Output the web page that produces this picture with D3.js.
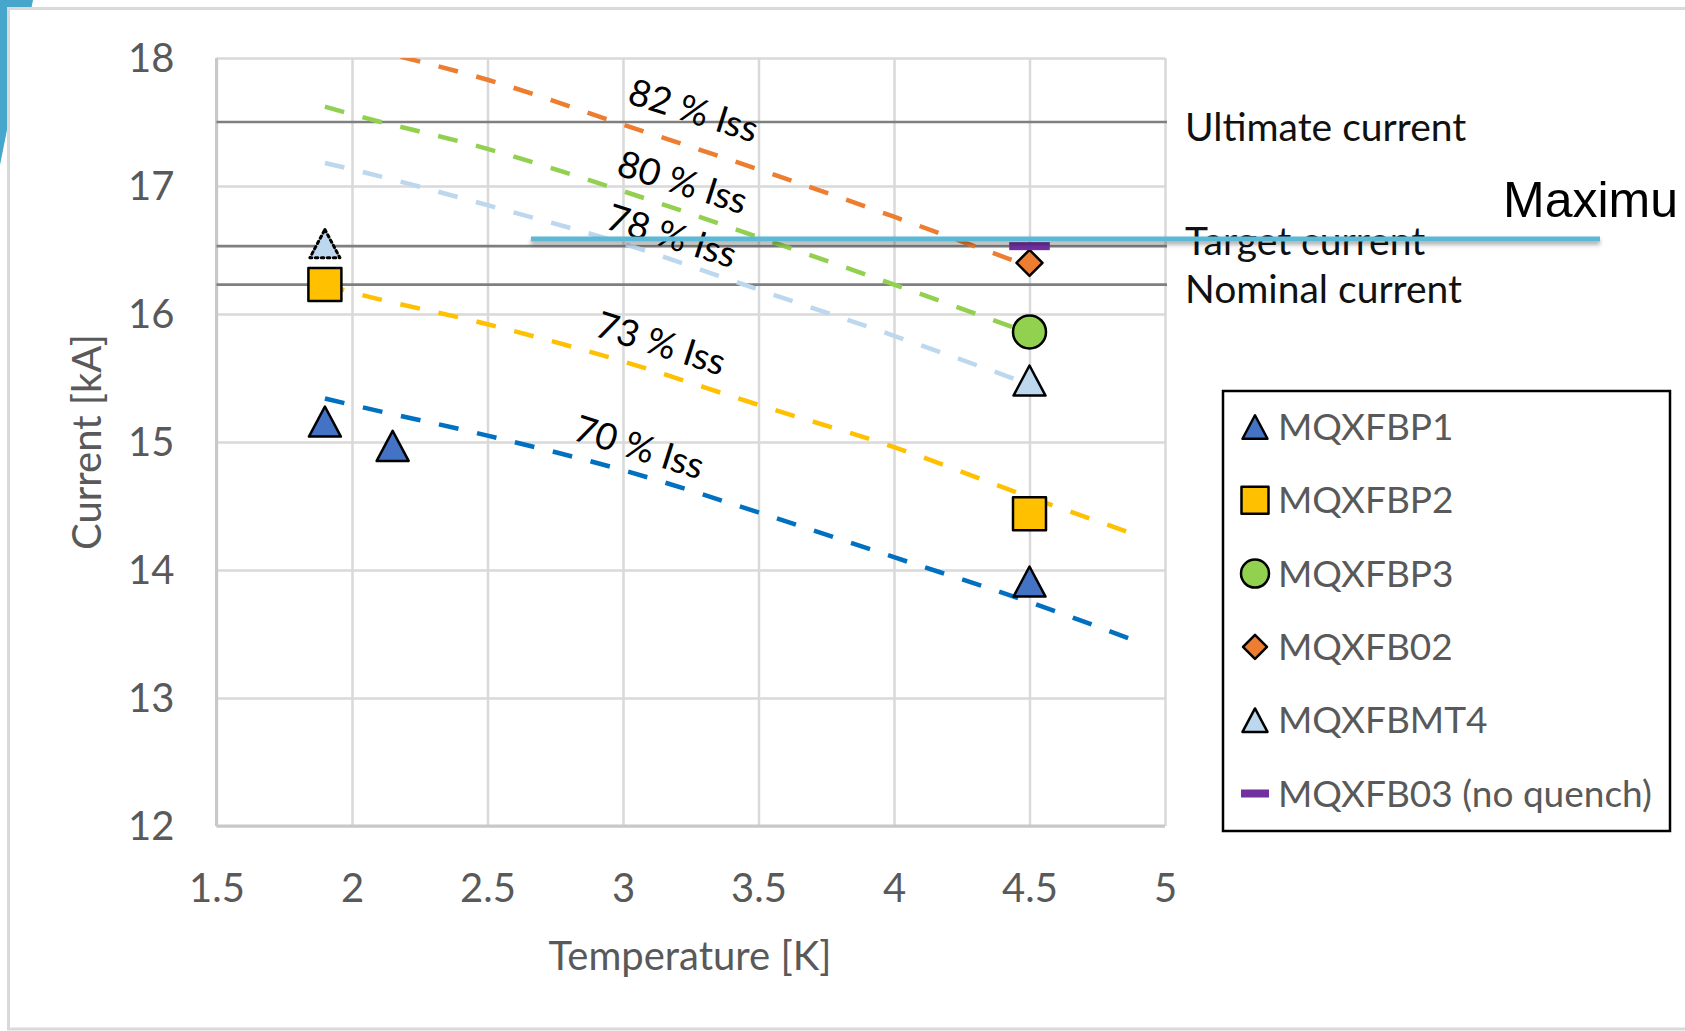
<!DOCTYPE html>
<html>
<head>
<meta charset="utf-8">
<script src="https://cdn.jsdelivr.net/npm/d3@7"></script>
<style>
  html, body { margin: 0; padding: 0; background: #fff; overflow: hidden; }
</style>
</head>
<body>
<div id="chart"></div>
<script>
// ---- data (temperature in K, current in kA) ----
const xTicks = [1.5, 2, 2.5, 3, 3.5, 4, 4.5, 5];
const yTicks = [12, 13, 14, 15, 16, 17, 18];

// %Iss curves
const tempsLong = [1.9, 2.0, 2.5, 3.0, 3.5, 4.0, 4.5, 4.9];
const tempsShort = [1.9, 2.0, 2.5, 3.0, 3.5, 4.0, 4.5];
const iss70 = [15.34, 15.29, 15.05, 14.78, 14.45, 14.10, 13.75, 13.44];
const iss73 = [16.23, 16.17, 15.92, 15.63, 15.29, 14.96, 14.57, 14.27];
const iss78 = [17.18, 17.13, 16.85, 16.55, 16.19, 15.83, 15.45];
const iss80 = [17.62, 17.56, 17.29, 16.96, 16.60, 16.23, 15.85];
const iss82 = [18.15, 18.10, 17.83, 17.48, 17.13, 16.76, 16.37];
const issLabels = ['70 % Iss', '73 % Iss', '78 % Iss', '80 % Iss', '82 % Iss'];
const issLabelTemps = [3.06, 3.14, 3.18, 3.22, 3.26];
const issLabelCurrents = [14.96, 15.77, 16.61, 17.03, 17.59];

// reference currents
const refNames = ['Ultimate current', 'Target current', 'Nominal current'];
const refCurrents = [17.5, 16.53, 16.23];

// magnets
const magnetNames = ['MQXFBP1', 'MQXFBP2', 'MQXFBP3', 'MQXFB02', 'MQXFBMT4', 'MQXFB03 (no quench)'];
const p1Temps = [1.9, 2.15, 4.5];
const p1Currents = [15.16, 14.97, 13.91];
const p2Temps = [1.9, 4.5];
const p2Currents = [16.23, 14.44];
const p3Temps = [4.5];
const p3Currents = [15.86];
const b02Temps = [4.5];
const b02Currents = [16.40];
const mt4Temps = [4.5];
const mt4Currents = [15.48];
const mt4NoQuenchTemps = [1.9];
const mt4NoQuenchCurrents = [16.55];
const b03Temps = [4.5];
const b03Currents = [16.53];

// slide overlay text, visible part only (the rest runs off the slide)
const maxLabel = 'Maximu';

// ---- styles ----
const FONT = 'Lato, "Open Sans", sans-serif';
const TXT_GRAY = '#595959';
const issColors = ['#0070c0', '#ffc000', '#bdd7ee', '#92d050', '#ed7d31'];
const magnetStyles = [
  { shape: 'triangle', fill: '#4472c4' },
  { shape: 'square', fill: '#ffc000' },
  { shape: 'circle', fill: '#92d050' },
  { shape: 'diamond', fill: '#ed7d31' },
  { shape: 'triangle', fill: '#bdd7ee' },
  { shape: 'dash', fill: '#7030a0' }
];

const W = 1685, H = 1031;
const svg = d3.select('#chart').append('svg').attr('width', W).attr('height', H);

// slide decoration + chart frame
svg.append('path').attr('d', 'M0,0L33,0L0,165Z').attr('fill', '#46a6cb');
svg.append('rect').attr('x', 8.5).attr('y', 8.5).attr('width', 1720).attr('height', 1020.5)
  .attr('fill', '#fff').attr('stroke', '#d9d9d9').attr('stroke-width', 3);

const x = d3.scaleLinear().domain([1.5, 5]).range([216.5, 1165]);
const y = d3.scaleLinear().domain([12, 18]).range([826, 58]);

const defs = svg.append('defs');
defs.append('clipPath').attr('id', 'plot-clip').append('rect')
  .attr('x', x(1.5)).attr('y', y(18)).attr('width', x(5) - x(1.5)).attr('height', y(12) - y(18));
const shadow = defs.append('filter').attr('id', 'shadow').attr('filterUnits', 'userSpaceOnUse')
  .attr('x', 500).attr('y', 220).attr('width', 1130).attr('height', 50);
shadow.append('feDropShadow').attr('dx', 0).attr('dy', 3).attr('stdDeviation', 2)
  .attr('flood-color', '#000').attr('flood-opacity', 0.35);

// gridlines
svg.append('g')
  .attr('transform', `translate(0,${y(12)})`)
  .call(d3.axisBottom(x).tickValues(xTicks).tickSize(-(y(12) - y(18))).tickFormat(d => d))
  .call(g => g.select('.domain').remove())
  .call(g => g.selectAll('.tick line').attr('stroke', '#d9d9d9').attr('stroke-width', 2.5))
  .call(g => g.selectAll('.tick text').attr('fill', TXT_GRAY).attr('font-size', '40px')
    .attr('font-family', FONT).attr('y', 0).attr('dy', 0).attr('transform', 'translate(0,76)'));

svg.append('g')
  .attr('transform', `translate(${x(1.5)},0)`)
  .call(d3.axisLeft(y).tickValues(yTicks).tickSize(-(x(5) - x(1.5))).tickFormat(d => d))
  .call(g => g.select('.domain').remove())
  .call(g => g.selectAll('.tick line').attr('stroke', '#d9d9d9').attr('stroke-width', 2.5))
  .call(g => g.selectAll('.tick text').attr('fill', TXT_GRAY).attr('font-size', '40px')
    .attr('font-family', FONT).attr('x', -42).attr('dy', '0.33em'));

// axis lines
svg.append('line').attr('x1', x(1.5)).attr('x2', x(1.5)).attr('y1', y(18)).attr('y2', y(12))
  .attr('stroke', '#c8c8c8').attr('stroke-width', 3);
svg.append('line').attr('x1', x(1.5)).attr('x2', x(5)).attr('y1', y(12)).attr('y2', y(12))
  .attr('stroke', '#c8c8c8').attr('stroke-width', 3);

// axis titles
svg.append('text').attr('x', 690).attr('y', 970).attr('text-anchor', 'middle')
  .attr('fill', TXT_GRAY).attr('font-size', '40px').attr('font-family', FONT).text('Temperature [K]');
svg.append('text').attr('transform', 'translate(101,442) rotate(-90)').attr('text-anchor', 'middle')
  .attr('fill', TXT_GRAY).attr('font-size', '40px').attr('font-family', FONT).text('Current [kA]');

// reference lines
const refLabelDy = [19, 9, 18];
refCurrents.forEach((c, i) => {
  svg.append('line').attr('x1', x(1.5)).attr('x2', x(5) + 2).attr('y1', y(c)).attr('y2', y(c))
    .attr('stroke', '#7f7f7f').attr('stroke-width', 2.7);
  svg.append('text').attr('x', 1185).attr('y', y(c) + refLabelDy[i])
    .attr('fill', '#111').attr('font-size', '39px').attr('font-family', FONT).text(refNames[i]);
});

// %Iss curves
const issSeries = [
  { t: tempsLong, v: iss70 },
  { t: tempsLong, v: iss73 },
  { t: tempsShort, v: iss78 },
  { t: tempsShort, v: iss80 },
  { t: tempsShort, v: iss82 }
];
const line = d3.line().x(d => x(d[0])).y(d => y(d[1])).curve(d3.curveMonotoneX);
const curves = svg.append('g').attr('clip-path', 'url(#plot-clip)');
issSeries.forEach((s, i) => {
  curves.append('path').datum(d3.zip(s.t, s.v)).attr('d', line)
    .attr('fill', 'none').attr('stroke', issColors[i]).attr('stroke-width', 4.5)
    .attr('stroke-dasharray', '20,19');
});

// markers
function drawMarker(g, shape, cx, cy, size, fill, dotted) {
  const w = size, h = shape === 'triangle' ? size * 0.94 : size;
  let el;
  if (shape === 'triangle') {
    el = g.append('path').attr('d', `M${cx},${cy - h / 2}L${cx + w / 2},${cy + h / 2}L${cx - w / 2},${cy + h / 2}Z`);
  } else if (shape === 'square') {
    el = g.append('rect').attr('x', cx - w / 2).attr('y', cy - w / 2).attr('width', w).attr('height', w);
  } else if (shape === 'circle') {
    el = g.append('circle').attr('cx', cx).attr('cy', cy).attr('r', w / 2);
  } else if (shape === 'diamond') {
    el = g.append('path').attr('d', `M${cx},${cy - h / 2}L${cx + w / 2},${cy}L${cx},${cy + h / 2}L${cx - w / 2},${cy}Z`);
  } else {
    return g.append('rect').attr('x', cx - w * 0.7).attr('y', cy - 4).attr('width', w * 1.4).attr('height', 8)
      .attr('fill', fill);
  }
  el.attr('fill', fill).attr('stroke', '#000').attr('stroke-width', 2.5).attr('stroke-linejoin', 'round');
  if (dotted) el.attr('stroke-dasharray', '2.5,3.5').attr('stroke-linecap', 'round').attr('stroke-width', 3);
  return el;
}

const magnetData = [
  d3.zip(p1Temps, p1Currents),
  d3.zip(p2Temps, p2Currents),
  d3.zip(p3Temps, p3Currents),
  d3.zip(b02Temps, b02Currents),
  d3.zip(mt4Temps, mt4Currents),
  d3.zip(b03Temps, b03Currents)
];
const plotSizes = [32, 33, 33, 26, 32, 29];
const markers = svg.append('g');
magnetData.forEach((pts, i) => {
  pts.forEach(p => drawMarker(markers, magnetStyles[i].shape, x(p[0]), y(p[1]), plotSizes[i], magnetStyles[i].fill, false));
});
d3.zip(mt4NoQuenchTemps, mt4NoQuenchCurrents).forEach(p =>
  drawMarker(markers, 'triangle', x(p[0]), y(p[1]), 30, '#bdd7ee', true));

// curve labels
issLabels.forEach((lab, i) => {
  svg.append('text')
    .attr('transform', `translate(${x(issLabelTemps[i])},${y(issLabelCurrents[i])}) rotate(17.5)`)
    .attr('text-anchor', 'middle').attr('dy', '0.35em')
    .attr('fill', '#000').attr('font-size', '37px').attr('font-family', FONT).text(lab);
});

// legend
const lg = svg.append('g');
lg.append('rect').attr('x', 1223).attr('y', 391).attr('width', 447).attr('height', 440)
  .attr('fill', '#fff').attr('stroke', '#000').attr('stroke-width', 2.5);
const legendSizes = [25, 27, 28, 24, 25, 20];
magnetNames.forEach((name, i) => {
  const cy = 427 + i * 73.3;
  drawMarker(lg, magnetStyles[i].shape, 1255, cy, legendSizes[i], magnetStyles[i].fill, false);
  lg.append('text').attr('x', 1278).attr('y', cy + 13)
    .attr('fill', TXT_GRAY).attr('font-size', '37px').attr('font-family', FONT).text(name);
});

// slide overlay: maximum line (rect so the drop shadow has a real box)
svg.append('rect').attr('x', 531).attr('y', 236.5).attr('width', 1069).attr('height', 5)
  .attr('fill', '#5bb9d6').attr('filter', 'url(#shadow)');
svg.append('text').attr('x', 1503).attr('y', 217)
  .attr('fill', '#000').attr('font-size', '50px').attr('font-family', '"Liberation Sans", Arial, sans-serif')
  .text(maxLabel);
</script>
</body>
</html>
